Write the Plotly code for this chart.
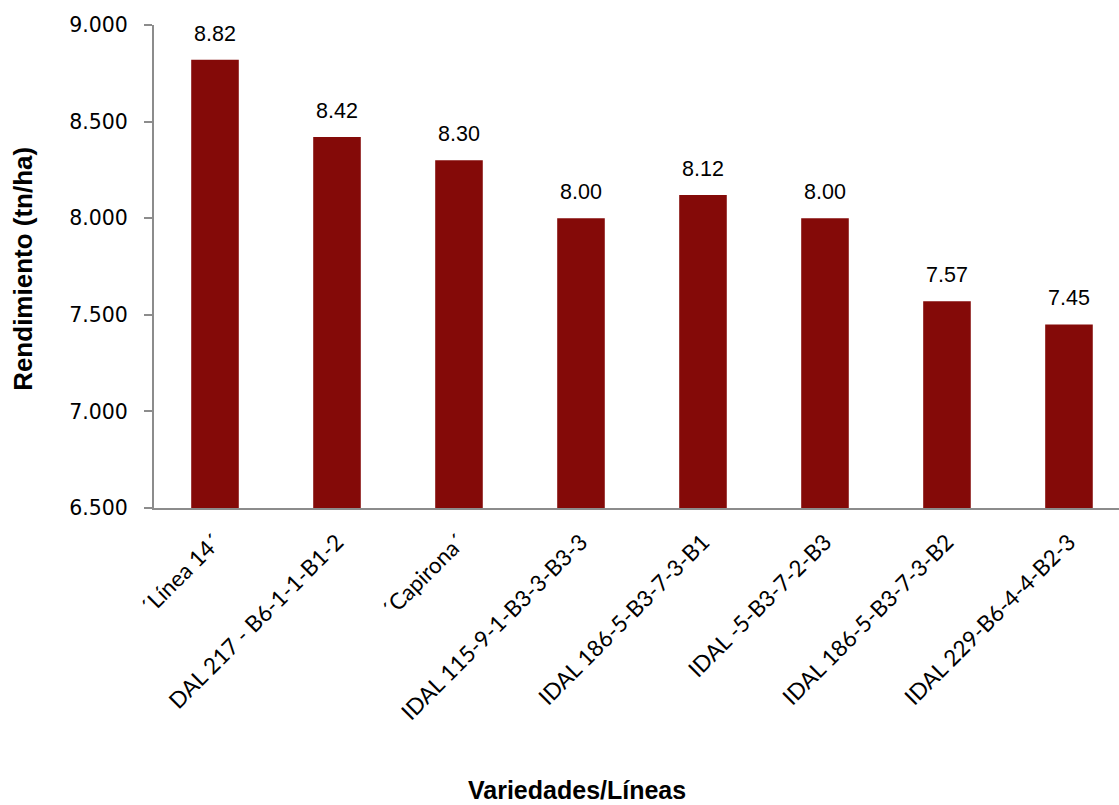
import plotly.graph_objects as go

# Yield per variety/line (t/ha)
variedades = [
    "´Línea 14´",
    "DAL 217 - B6-1-1-B1-2",
    "´Capirona´",
    "IDAL 115-9-1-B3-3-B3-3",
    "IDAL 186-5-B3-7-3-B1",
    "IDAL -5-B3-7-2-B3",
    "IDAL 186-5-B3-7-3-B2",
    "IDAL 229-B6-4-4-B2-3",
]
rendimiento = [8.82, 8.42, 8.30, 8.00, 8.12, 8.00, 7.57, 7.45]
y_ticks = [6.5, 7.0, 7.5, 8.0, 8.5, 9.0]

bar_color = "#840A08"
axis_color = "#8C8C8C"
label_font = dict(family="Liberation Sans, Arial", size=21.5, color="#000000")
title_font = dict(family="Liberation Sans, Arial", size=25, color="#000000")

x_pos = list(range(len(variedades)))

fig = go.Figure(
    go.Bar(
        x=x_pos,
        y=rendimiento,
        width=0.39,
        marker=dict(color=bar_color, line=dict(width=0)),
        hoverinfo="x+y",
    )
)

# value labels above each bar
value_labels = [
    dict(
        x=xi, y=v, xref="x", yref="y",
        text=f"{v:.2f}",
        showarrow=False,
        xanchor="center", yanchor="bottom",
        yshift=12,
        font=label_font,
    )
    for xi, v in zip(x_pos, rendimiento)
]

axis_titles = [
    dict(
        text="<b>Rendimiento (tn/ha)</b>",
        xref="paper", yref="paper",
        x=-0.1358, y=0.495,
        xanchor="center", yanchor="middle",
        textangle=-90, showarrow=False,
        font=dict(title_font, size=26),
    ),
    dict(
        text="<b>Variedades/Líneas</b>",
        xref="paper", yref="paper",
        x=0.438, y=-0.584,
        xanchor="center", yanchor="middle",
        showarrow=False,
        font=title_font,
    ),
]

fig.update_layout(
    width=1119,
    height=805,
    margin=dict(l=154, r=0, t=25, b=297),
    paper_bgcolor="white",
    plot_bgcolor="white",
    showlegend=False,
    xaxis=dict(
        range=[-0.5, 7.41],
        tickmode="array",
        tickvals=x_pos,
        ticktext=variedades,
        tickangle=-45,
        tickfont=dict(family="Lato, Open Sans", size=22.5, color="#000000"),
        ticklabelstandoff=10,
        showline=True,
        linecolor=axis_color,
        linewidth=2,
        ticks="",
        showgrid=False,
        zeroline=False,
    ),
    yaxis=dict(
        range=[6.5, 9.0],
        tickmode="array",
        tickvals=y_ticks,
        ticktext=[f"{t:.3f}" for t in y_ticks],
        tickfont=dict(family="DejaVu Sans", size=20.5, color="#000000"),
        ticklabelstandoff=12,
        showline=True,
        linecolor=axis_color,
        linewidth=2,
        ticks="outside",
        ticklen=8,
        tickwidth=2,
        tickcolor=axis_color,
        showgrid=False,
        zeroline=False,
    ),
    annotations=value_labels + axis_titles,
)

fig.write_html("out.html")
